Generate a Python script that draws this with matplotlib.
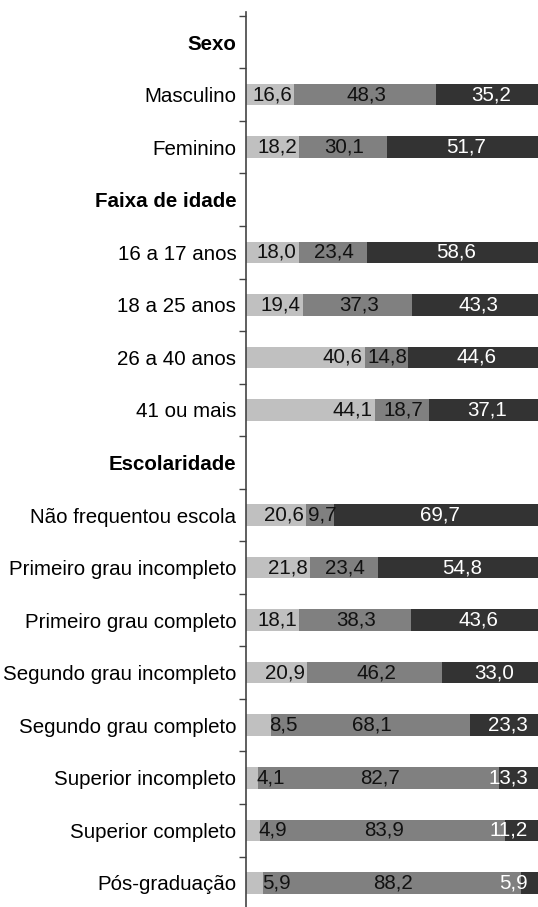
import numpy as np
import matplotlib
matplotlib.use("Agg")
import matplotlib.pyplot as plt

plt.rcParams['font.family'] = ['Liberation Sans', 'DejaVu Sans']

# rows, top to bottom; section headers have no values
categories = ["Sexo", "Masculino", "Feminino",
              "Faixa de idade", "16 a 17 anos", "18 a 25 anos", "26 a 40 anos", "41 ou mais",
              "Escolaridade", "Não frequentou escola", "Primeiro grau incompleto",
              "Primeiro grau completo", "Segundo grau incompleto", "Segundo grau completo",
              "Superior incompleto", "Superior completo", "Pós-graduação"]
headers = ["Sexo", "Faixa de idade", "Escolaridade"]

nan = np.nan
light = np.array([nan, 16.6, 18.2, nan, 18.0, 19.4, 40.6, 44.1,
                  nan, 20.6, 21.8, 18.1, 20.9, 8.5, 4.1, 4.9, 5.9])
medium = np.array([nan, 48.3, 30.1, nan, 23.4, 37.3, 14.8, 18.7,
                   nan, 9.7, 23.4, 38.3, 46.2, 68.1, 82.7, 83.9, 88.2])
dark = np.array([nan, 35.2, 51.7, nan, 58.6, 43.3, 44.6, 37.1,
                 nan, 69.7, 54.8, 43.6, 33.0, 23.3, 13.3, 11.2, 5.9])

c_light, c_med, c_dark = "#c0c0c0", "#808080", "#333333"

W, H = 538, 907
fig = plt.figure(figsize=(W / 100, H / 100), dpi=100)
ax = fig.add_axes([246 / W, 0, 292 / W, (H - 12) / H])

y = np.arange(len(categories))
bh = 0.41
ax.barh(y, light, height=bh, color=c_light, linewidth=0)
ax.barh(y, medium, left=light, height=bh, color=c_med, linewidth=0)
ax.barh(y, dark, left=light + medium, height=bh, color=c_dark, linewidth=0)

fs = 14.8
def fmt(v):
    return f"{v:.1f}".replace(".", ",")

for i in range(len(categories)):
    if np.isnan(light[i]):
        continue
    l, m, d = light[i], medium[i], dark[i]
    # light segment label
    if l >= 10:
        ax.text(l - 0.7, i, fmt(l), ha="right", va="center", fontsize=fs, color="#111111")
    else:
        ax.text(l - 0.5, i, fmt(l), ha="left", va="center", fontsize=fs, color="#111111")
    # medium segment label
    ax.text(l + m / 2 + 0.5, i, fmt(m), ha="center", va="center", fontsize=fs, color="#111111")
    # dark segment label
    if d < 25:
        ax.text(96.6, i, fmt(d), ha="right", va="center", fontsize=fs, color="white")
    else:
        ax.text(l + m + d / 2 + 1.3, i, fmt(d), ha="center", va="center", fontsize=fs, color="white")

ax.set_xlim(0, 100)
ax.set_ylim(16.46, -0.573)
ax.set_yticks(y)
ax.set_yticklabels(categories, fontsize=fs)
for lab in ax.get_yticklabels():
    if lab.get_text() in headers:
        lab.set_fontweight("bold")
ax.tick_params(axis="y", which="major", length=0, pad=7)
ax.set_yticks(np.arange(-0.5, 16.5, 1.0), minor=True)
ax.tick_params(axis="y", which="minor", length=5, width=1.0, color="#444444")
ax.set_xticks([])
for s in ["top", "right", "bottom"]:
    ax.spines[s].set_visible(False)
ax.spines["left"].set_color("#444444")
ax.spines["left"].set_linewidth(1.2)

fig.savefig("out.png", dpi=100)
